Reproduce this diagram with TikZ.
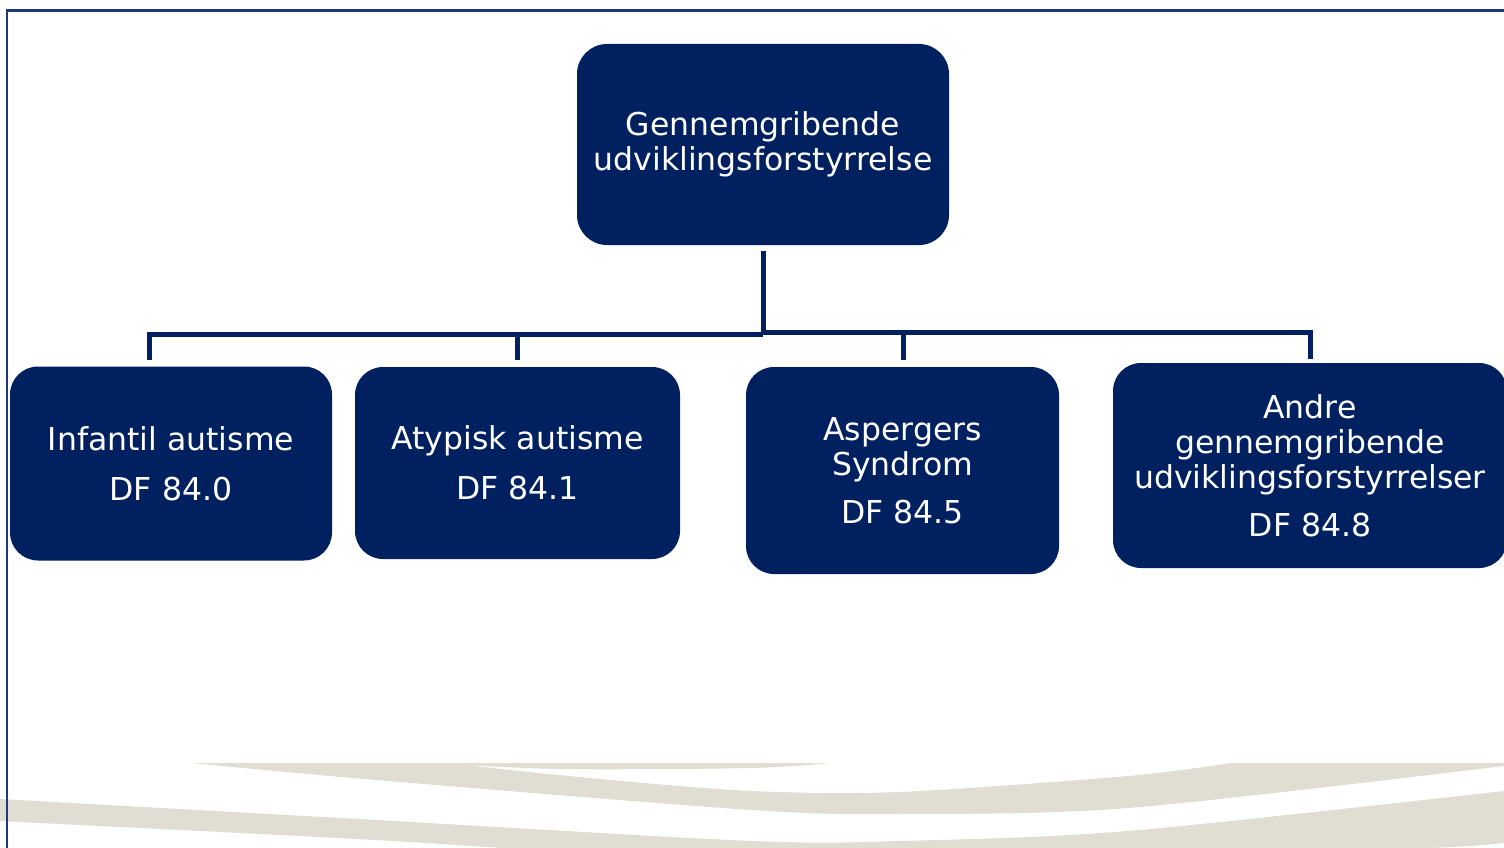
\documentclass[tikz,border=0pt]{standalone}
\usepackage{fontspec}
\setmainfont{DejaVu Sans}
\definecolor{navy}{RGB}{0,32,96}
\definecolor{framecol}{RGB}{31,56,120}
\definecolor{sand}{RGB}{224,221,210}
\begin{document}
\begin{tikzpicture}[x=1pt,y=-1pt,
    box/.style={fill=navy, rounded corners=28pt, text=white, align=center, inner sep=0pt,
      font=\fontsize{31.5}{35}\selectfont},
    link/.style={draw=navy, line width=5pt},
    swoosh/.style={fill=sand}]
  \clip (0,0) rectangle (1504,848);
  \fill[white] (0,0) rectangle (1504,848);
  \begin{scope}
    \clip (0,763) rectangle (1504,848);
    \fill[swoosh] (170,750) -- plot[smooth] coordinates {(192,763) (376,780) (752,810) (900,814) (1128,808) (1504,766) (1530,760)}
      -- (1530,740) -- (1250,740) -- plot[smooth] coordinates {(1231,763) (1128,776) (900,792) (752,791) (600,779) (453,763) (430,750)} -- cycle;
    \fill[swoosh] (420,755) -- plot[smooth] coordinates {(426,763) (560,769) (752,768) (830,763)} -- (840,755) -- cycle;
    \fill[swoosh] plot[smooth] coordinates {(-10,798) (0,799) (376,820) (752,841) (900,841) (1128,831) (1504,791) (1520,788)}
      -- plot[smooth] coordinates {(1520,841) (1504,843) (1428,848) (1100,858) (752,862) (376,840) (0,821) (-10,820)} -- cycle;
  \end{scope}
  \draw[framecol, line width=2.5pt] (7,850) -- (7,10.5) -- (1510,10.5);
  \node[box, rounded corners=30pt, minimum width=372pt, minimum height=201pt] (top) at (763,144.5)
    {Gennemgribende\\udviklingsforstyrrelse};
  \node[box, minimum width=322pt, minimum height=194pt] (inf) at (171,463.5)
    {Infantil autisme\\[15pt]DF 84.0};
  \node[box, minimum width=325pt, minimum height=192pt] (aty) at (517.5,463)
    {Atypisk autisme\\[15pt]DF 84.1};
  \node[box, minimum width=313pt, minimum height=207pt] (asp) at (902.5,470.5)
    {Aspergers\\Syndrom\\[13pt]DF 84.5};
  \node[box, minimum width=394pt, minimum height=205pt] (andre) at (1310,465.5)
    {Andre\\gennemgribende\\udviklingsforstyrrelser\\[13pt]DF 84.8};
  \coordinate (hub) at (763,334);
  \coordinate (hubR) at (763,332);
  \coordinate (d1) at (149,360);
  \coordinate (d2) at (517,360);
  \coordinate (d3) at (903,360);
  \coordinate (d4) at (1310,359);
  \draw[link] ([yshift=-6pt]top.south) -- (hub);
  \draw[link] (d1) |- (hub);
  \draw[link] (d2) -- (d2 |- hub);
  \draw[link] (hubR) -| (d4);
  \draw[link] (d3) -- (d3 |- hubR);
\end{tikzpicture}
\end{document}
